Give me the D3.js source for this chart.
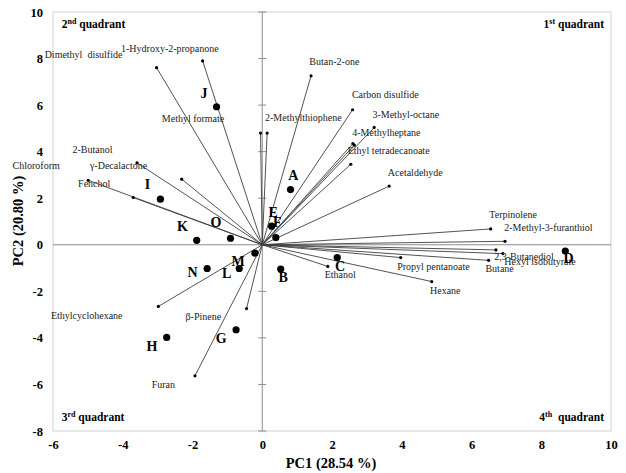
<!DOCTYPE html>
<html><head><meta charset="utf-8">
<script src="https://cdn.jsdelivr.net/npm/d3@7"></script>
<style>body{margin:0;background:#fff} svg{display:block}</style>
</head><body><svg id="c" width="626" height="473"></svg>
<script>
// ---------- data ----------
const xTicks = [-6, -4, -2, 0, 2, 4, 6, 8, 10];
const yTicks = [-8, -6, -4, -2, 0, 2, 4, 6, 8, 10];

// loading vectors (volatile compounds)
const loadingNames = ["Dimethyl disulfide","1-Hydroxy-2-propanone","Methyl formate","2-Methylthiophene",
  "Butan-2-one","Carbon disulfide","3-Methyl-octane","4-Methylheptane","Ethyl tetradecanoate","(unlabelled)",
  "Acetaldehyde","Terpinolene","2-Methyl-3-furanthiol","2,3-Butanediol","Hexyl isobutyrate","Butane",
  "Propyl pentanoate","Hexane","Ethanol","β-Pinene","Furan","Ethylcyclohexane","Fenchol","Chloroform",
  "γ-Decalactone","2-Butanol"];
const loadingPC1 = [-3.03,-1.71,-0.05,0.14, 1.40,2.59,3.21,2.60,2.64,2.54, 3.64,6.55,6.96,6.70,6.90,6.49,
  3.97,4.86,1.88,-0.45,-1.93,-2.98,-4.99,-3.70, -3.59,-2.31];
const loadingPC2 = [7.61,7.90,4.80,4.80, 7.26,5.80,5.04,4.35,4.28,3.46, 2.52,0.68,0.15,-0.22,-0.38,-0.67,
  -0.55,-1.58,-0.93,-2.74,-5.63,-2.65,2.77,2.03, 3.52,2.82];

// compound label texts and anchor (data units, left/baseline)
const compoundLabels = ["Dimethyl  disulfide","1-Hydroxy-2-propanone","Methyl formate","2-Methylthiophene",
  "Butan-2-one","Carbon disulfide","3-Methyl-octane","4-Methylheptane","Ethyl tetradecanoate",
  "Acetaldehyde","Terpinolene","2-Methyl-3-furanthiol","2,3-Butanediol","Hexyl isobutyrate","Butane",
  "Propyl pentanoate","Hexane","Ethanol","β-Pinene","Furan","Ethylcyclohexane","Fenchol","Chloroform",
  "γ-Decalactone","2-Butanol"];
const compoundLabelX = [-6.24,-4.05,-2.88,0.08, 1.35,2.57,3.16,2.58,2.45, 3.60,6.51,6.94,6.65,6.94,6.40,
  3.87,4.81,1.79,-2.20,-3.17,-6.06,-5.28,-7.16, -4.94,-5.44];
const compoundLabelY = [8.02,8.30,5.29,5.31, 7.72,6.30,5.46,4.69,3.89, 2.95,1.16,0.58,-0.67,-0.86,-1.18,
  -1.10,-2.13,-1.44,-3.25,-6.17,-3.18,2.47,3.25, 3.25,3.96];

// sample scores
const sampleNames = ["A","B","C","D","E","F","G","H","I","J","K","L","M","N","O"];
const samplePC1 = [0.81,0.53,2.15,8.69,0.27,0.39,-0.75,-2.74,-2.92,-1.31,-1.88,-0.66,-0.21,-1.58,-0.91];
const samplePC2 = [2.37,-1.04,-0.55,-0.27,0.80,0.31,-3.65,-3.98,1.96,5.93,0.19,-1.02,-0.36,-1.02,0.28];
// sample label centres (data units)
const sampleLabelX = [0.89,0.60,2.23,8.78,0.31,0.43,-1.18,-3.16,-3.29,-1.67,-2.29,-1.02,-0.69,-2.00,-1.33];
const sampleLabelY = [2.99,-1.41,-0.95,-0.59,1.39,0.94,-4.01,-4.35,2.59,6.51,0.79,-1.23,-0.71,-1.19,0.94];

const quadNum = ["2","1","3","4"];
const quadSup = ["nd","st","rd","th"];

// ---------- drawing ----------
const svg = d3.select("#c");
const L = 53, R = 611, T = 12, B = 431;
const x = d3.scaleLinear().domain([-6, 10]).range([L, R]);
const y = d3.scaleLinear().domain([-8, 10]).range([B, T]);
const serif = "'Liberation Serif','Times New Roman',serif";

// plot frame
svg.append("rect").attr("x", L).attr("y", T).attr("width", R - L).attr("height", B - T)
  .attr("fill", "none").attr("stroke", "#d9d9d9").attr("stroke-width", 1.2);

// tick labels
const ax = svg.append("g").attr("transform", `translate(0,${B})`)
  .call(d3.axisBottom(x).tickValues(xTicks).tickSize(0).tickPadding(9).tickFormat(d => String(d)));
const ay = svg.append("g").attr("transform", `translate(${L},0)`)
  .call(d3.axisLeft(y).tickValues(yTicks).tickSize(0).tickPadding(10).tickFormat(d => String(d)));
[ax, ay].forEach(g => {
  g.select(".domain").remove();
  g.selectAll("text").attr("font-family", serif).attr("font-weight", "bold")
    .attr("font-size", 12.5).attr("fill", "#000");
});

// zero lines
svg.append("line").attr("x1", L).attr("x2", R).attr("y1", y(0)).attr("y2", y(0))
  .attr("stroke", "#8c8c8c").attr("stroke-width", 1);
svg.append("line").attr("x1", x(0)).attr("x2", x(0)).attr("y1", T).attr("y2", B)
  .attr("stroke", "#8c8c8c").attr("stroke-width", 1);
svg.append("g").selectAll("line").data(yTicks).join("line")
  .attr("x1", x(0) - 4).attr("x2", x(0) + 4).attr("y1", d => y(d)).attr("y2", d => y(d))
  .attr("stroke", "#8c8c8c");

// loading vectors
const loadings = loadingNames.map((n, i) => ({ n, px: loadingPC1[i], py: loadingPC2[i] }));
svg.append("g").selectAll("line").data(loadings).join("line")
  .attr("x1", x(0)).attr("y1", y(0)).attr("x2", d => x(d.px)).attr("y2", d => y(d.py))
  .attr("stroke", "#404040").attr("stroke-width", 0.9);
svg.append("g").selectAll("circle").data(loadings).join("circle")
  .attr("cx", d => x(d.px)).attr("cy", d => y(d.py)).attr("r", 1.6).attr("fill", "#000");

// compound labels
svg.append("g").selectAll("text").data(compoundLabels).join("text")
  .attr("x", (d, i) => x(compoundLabelX[i])).attr("y", (d, i) => y(compoundLabelY[i]))
  .attr("font-family", serif).attr("font-size", 10).attr("fill", "#222")
  .style("white-space", "pre").text(d => d);

// samples
const samples = sampleNames.map((n, i) => ({ n, px: samplePC1[i], py: samplePC2[i], lx: sampleLabelX[i], ly: sampleLabelY[i] }));
svg.append("g").selectAll("circle").data(samples).join("circle")
  .attr("cx", d => x(d.px)).attr("cy", d => y(d.py)).attr("r", 3.6).attr("fill", "#000");
svg.append("g").selectAll("text").data(samples).join("text")
  .attr("x", d => x(d.lx)).attr("y", d => y(d.ly)).attr("text-anchor", "middle")
  .attr("dominant-baseline", "central")
  .attr("font-family", serif).attr("font-weight", "bold").attr("font-size", 14).attr("fill", "#000")
  .text(d => d.n);

// quadrant labels
const quadPos = [
  { x: -5.75, y: 9.5, anchor: "start" },
  { x: 9.8, y: 9.5, anchor: "end" },
  { x: -5.75, y: -7.4, anchor: "start" },
  { x: 9.8, y: -7.4, anchor: "end" }
];
quadNum.forEach((q, i) => {
  const t = svg.append("text").attr("x", x(quadPos[i].x)).attr("y", y(quadPos[i].y) + 4)
    .attr("text-anchor", quadPos[i].anchor)
    .attr("font-family", serif).attr("font-weight", "bold").attr("font-size", 11.5).attr("fill", "#000");
  t.append("tspan").text(q);
  t.append("tspan").attr("font-size", 8).attr("dy", -4).text(quadSup[i]);
  t.append("tspan").attr("dy", 4).text(i === 3 ? "\u00a0 quadrant" : " quadrant");
});

// axis titles
svg.append("text").attr("x", 331).attr("y", 468).attr("text-anchor", "middle")
  .attr("font-family", serif).attr("font-weight", "bold").attr("font-size", 14.5).text("PC1 (28.54 %)");
svg.append("text").attr("transform", "translate(23,221) rotate(-90)").attr("text-anchor", "middle")
  .attr("font-family", serif).attr("font-weight", "bold").attr("font-size", 14.5).text("PC2 (20.80 %)");
</script></body></html>
